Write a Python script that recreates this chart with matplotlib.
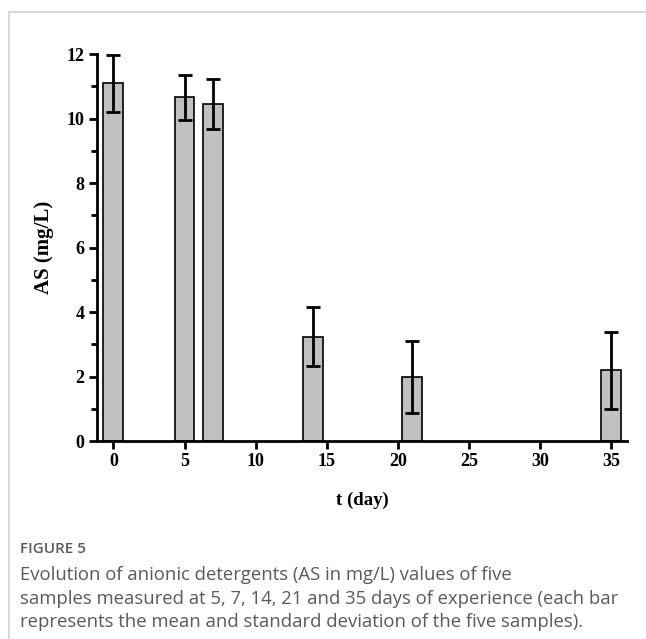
import matplotlib
matplotlib.use("Agg")
import matplotlib.pyplot as plt
from matplotlib.lines import Line2D
from matplotlib.ticker import MultipleLocator

days = [0, 5, 7, 14, 21, 35]
as_mean = [11.09, 10.66, 10.45, 3.24, 1.98, 2.19]
as_sd = [0.88, 0.70, 0.79, 0.90, 1.12, 1.20]
x_ticks = [0, 5, 10, 15, 20, 25, 30, 35]
y_ticks = [0, 2, 4, 6, 8, 10, 12]

caption_title = "FIGURE 5"
caption_lines = [
    "Evolution of anionic detergents (AS in mg/L) values of five",
    "samples measured at 5, 7, 14, 21 and 35 days of experience (each bar",
    "represents the mean and standard deviation of the five samples).",
]

W, H = 646, 639
fig = plt.figure(figsize=(W / 100, H / 100), dpi=100)
fig.patch.set_facecolor("white")

# card frame (top and left light gray lines)
fig.add_artist(Line2D([9 / W, 1.0], [1 - 12 / H, 1 - 12 / H], color="#d8d8d8", lw=1.5, transform=fig.transFigure))
fig.add_artist(Line2D([9 / W, 9 / W], [0, 1 - 12 / H], color="#d8d8d8", lw=1.5, transform=fig.transFigure))

ax = fig.add_axes([97 / W, 198 / H, (627 - 97) / W, (441 - 54) / H])
serif = "Liberation Serif"

ax.bar(days, as_mean, width=1.4, color="#c0c0c0", edgecolor="black", linewidth=1.2, zorder=2)
ax.errorbar(days, as_mean, yerr=as_sd, fmt="none", ecolor="black", elinewidth=2.0,
            capsize=5, capthick=2.0, zorder=3)

ax.set_xlim(-1.15, 36.1)
ax.set_ylim(0, 12)
ax.set_xticks(x_ticks)
ax.set_yticks(y_ticks)
ax.yaxis.set_minor_locator(MultipleLocator(1))

for s in ["top", "right"]:
    ax.spines[s].set_visible(False)
for s in ["left", "bottom"]:
    ax.spines[s].set_linewidth(2.0)

ax.tick_params(axis="both", which="major", direction="out", length=6, width=2.0, pad=3)
ax.tick_params(axis="y", which="minor", direction="out", length=4, width=2.0)
for lab in ax.get_xticklabels() + ax.get_yticklabels():
    lab.set_fontfamily(serif)
    lab.set_fontweight("bold")
    lab.set_fontsize(13)

ax.set_xlabel("t (day)", fontfamily=serif, fontweight="bold", fontsize=13.5, labelpad=15)
ax.set_ylabel("AS (mg/L)", fontfamily=serif, fontweight="bold", fontsize=15, labelpad=9)

cap_color = "#5a5a5a"
fig.text(20 / W, 1 - 549 / H, caption_title, fontfamily="Open Sans", fontweight="semibold",
         fontsize=11, color=cap_color, va="center", ha="left")
for i, line in enumerate(caption_lines):
    fig.text(20 / W, 1 - (575 + i * 23.5) / H, line, fontfamily="Open Sans",
             fontsize=13.3, color=cap_color, va="center", ha="left")

fig.savefig("out.png", dpi=100, facecolor="white")
